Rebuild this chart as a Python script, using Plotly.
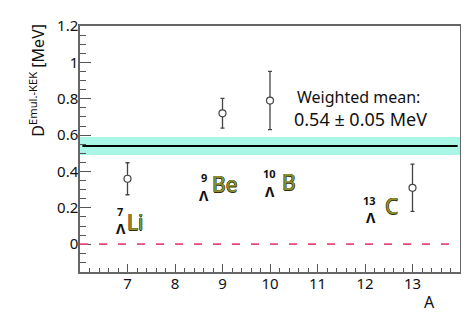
import plotly.graph_objects as go

# data
nuclei = ["Li", "Be", "B", "C"]
mass_numbers = [7, 9, 10, 13]
d_values = [0.36, 0.72, 0.79, 0.31]
d_errors = [0.088, 0.082, 0.16, 0.13]
mean_value = 0.54
mean_error = 0.05
x_ticks = [7, 8, 9, 10, 11, 12, 13]
y_ticks = [0, 0.2, 0.4, 0.6, 0.8, 1.0, 1.2]
y_tick_labels = ["0", "0.2", "0.4", "0.6", "0.8", "1", "1.2"]

FONT = "Noto Sans"
fig = go.Figure()

# weighted mean band
fig.add_shape(type="rect", xref="x", yref="y", x0=6, x1=14,
              y0=mean_value - mean_error, y1=mean_value + mean_error,
              fillcolor="#a9f6e6", line=dict(width=0), layer="below")
fig.add_shape(type="line", xref="x", yref="y", x0=6.05, x1=13.95,
              y0=mean_value, y1=mean_value, line=dict(color="black", width=2))
fig.add_shape(type="line", xref="x", yref="y", x0=6, x1=14, y0=0, y1=0,
              line=dict(color="#e84a78", width=1.8, dash="8px,11px"))

fig.add_trace(go.Scatter(
    x=mass_numbers, y=d_values, mode="markers",
    marker=dict(symbol="circle", size=7, color="white",
                line=dict(color="#444", width=1.2)),
    error_y=dict(type="data", array=d_errors, color="#444", thickness=1.3, width=2),
    showlegend=False))

# hypernucleus labels: (superscript, element, x num, y num, x Lambda, y Lambda, x elem, y elem)
labels = [
    ("7", "Li", 6.84, 0.18, 6.86, 0.085, 6.95, 0.12),
    ("9", "Be", 8.6, 0.365, 8.62, 0.27, 8.73, 0.333),
    ("10", "B", 9.98, 0.387, 10.0, 0.29, 10.2, 0.342),
    ("13", "C", 12.1, 0.242, 12.12, 0.147, 12.37, 0.21),
]
for num, el, xn, yn, xl, yl, xe, ye in labels:
    fig.add_annotation(x=xn, y=yn, xref="x", yref="y", text="<b>%s</b>" % num,
                       showarrow=False, font=dict(family=FONT, size=11, color="#111"))
    fig.add_annotation(x=xl, y=yl, xref="x", yref="y", text="<b>\u039b</b>",
                       showarrow=False, font=dict(family=FONT, size=14, color="#111"))
    fig.add_annotation(x=xe, y=ye, xref="x", yref="y", text=el, xanchor="left",
                       showarrow=False,
                       font=dict(family=FONT, size=21, color="#8e9030",
                                 shadow="-0.5px 0 #2e2e10, 0.5px 0 #2e2e10, 0 0.5px #2e2e10, 0 -0.5px #2e2e10"))

fig.add_annotation(x=10.52, y=0.81, xref="x", yref="y", xanchor="left", yanchor="middle",
                   text="Weighted mean:", showarrow=False,
                   font=dict(family=FONT, size=16, color="#111"))
fig.add_annotation(x=10.47, y=0.69, xref="x", yref="y", xanchor="left", yanchor="middle",
                   text="%.2f \u00b1 %.2f MeV" % (mean_value, mean_error), showarrow=False,
                   font=dict(family=FONT, size=18, color="#111"))

# axis titles
fig.add_annotation(x=-0.113, y=0.778, xref="paper", yref="paper", textangle=-90,
                   xanchor="center", yanchor="middle",
                   text="D<sup>Emul.-KEK</sup> [MeV]", showarrow=False,
                   font=dict(family=FONT, size=16, color="#111"))
fig.add_annotation(x=0.919, y=-0.121, xref="paper", yref="paper",
                   xanchor="center", yanchor="middle",
                   text="A", showarrow=False, font=dict(family=FONT, size=16, color="#111"))

fig.update_xaxes(range=[6, 14], tickvals=x_ticks, ticks="inside", ticklen=8,
                 tickcolor="#555", tickwidth=1.2, showgrid=False, zeroline=False,
                 showline=True, linecolor="#666", linewidth=1.5, mirror=True,
                 ticklabelstandoff=-3, ticklabeloverflow="allow",
                 tickfont=dict(family=FONT, size=15, color="#111"),
                 minor=dict(dtick=0.2, ticks="inside", ticklen=4, tickcolor="#555", showgrid=False))
fig.update_yaxes(range=[-0.153, 1.2001], tickvals=y_ticks, ticktext=y_tick_labels,
                 ticks="inside", ticklen=11, tickcolor="#555", tickwidth=1.2,
                 showgrid=False, zeroline=False, showline=True, linecolor="#666",
                 linewidth=1.5, mirror=True, ticklabelstandoff=-3, ticklabeloverflow="allow",
                 tickfont=dict(family=FONT, size=15, color="#111"),
                 minor=dict(dtick=0.05, ticks="inside", ticklen=6, tickcolor="#555", showgrid=False))

fig.update_layout(width=461, height=310, margin=dict(l=72, r=8, t=7, b=46),
                  plot_bgcolor="white", paper_bgcolor="white")
fig.write_html("out.html")
